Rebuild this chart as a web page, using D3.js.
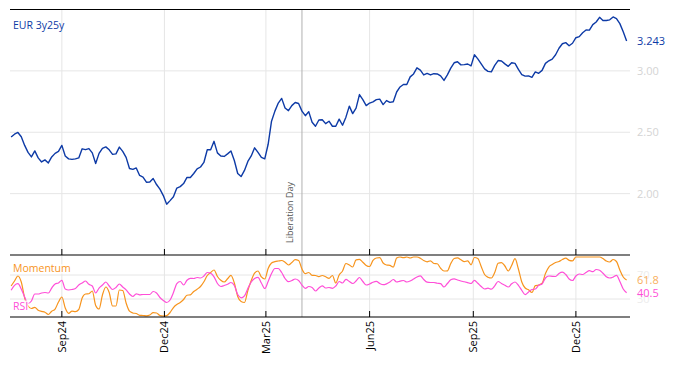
<!DOCTYPE html>
<html><head><meta charset="utf-8">
<script src="https://cdn.jsdelivr.net/npm/d3@7"></script>
<style>
body{margin:0;background:#fff;}
text{font-family:"Open Sans","Noto Sans",sans-serif;}
</style></head>
<body><svg id="c" width="674" height="366"></svg>
<script>
// ---------- DATA ----------
const seriesName = "EUR 3y25y";
const startDate = "2024-07-18";
const stepDays = 3;
const rates = [2.461,2.484,2.498,2.463,2.393,2.336,2.299,2.348,2.291,2.258,2.275,2.250,2.299,2.328,2.344,2.393,2.307,2.283,2.279,2.283,
2.291,2.365,2.358,2.367,2.332,2.246,2.328,2.369,2.381,2.357,2.320,2.324,2.379,2.344,2.295,2.205,2.198,2.209,2.148,2.135,
2.093,2.094,2.123,2.074,2.037,1.984,1.914,1.943,1.975,2.045,2.057,2.082,2.132,2.131,2.164,2.201,2.217,2.254,2.357,2.358,
2.426,2.332,2.307,2.303,2.324,2.347,2.270,2.164,2.139,2.189,2.262,2.307,2.373,2.336,2.295,2.283,2.402,2.590,2.672,2.738,
2.776,2.697,2.676,2.717,2.742,2.734,2.672,2.635,2.668,2.582,2.549,2.600,2.602,2.570,2.590,2.549,2.549,2.607,2.557,2.623,
2.713,2.652,2.697,2.807,2.766,2.717,2.738,2.748,2.766,2.770,2.725,2.758,2.743,2.748,2.828,2.869,2.889,2.889,2.951,2.975,
3.025,3.006,2.967,2.980,2.967,2.977,2.975,2.959,2.922,2.967,3.022,3.066,3.074,3.049,3.051,3.056,3.041,3.131,3.098,3.057,
3.016,2.996,2.992,3.045,3.084,3.080,3.057,3.037,3.066,3.061,3.012,2.970,2.957,2.959,2.947,2.992,2.980,3.004,3.061,3.082,
3.096,3.131,3.184,3.221,3.230,3.205,3.225,3.270,3.279,3.311,3.333,3.332,3.377,3.398,3.436,3.410,3.410,3.416,3.439,3.426,
3.385,3.318,3.243];
const rsi = [44.5,52.8,55.5,46.7,33.3,22.5,26.7,38.3,38.3,40,40.8,40,48.3,55,56.7,61.2,46.7,45,45.8,47.5,
53.3,56.7,60,54.5,51.7,40,48.3,53.3,58.3,51.7,45.8,49.2,55,50,45.3,38.3,34.2,38.7,36.9,37.5,
37.5,37.5,42.5,40,32.5,27.5,24.2,28.3,40.8,55.8,59.2,53.3,61.2,64.5,64.2,65.8,65,68.3,74.2,72.8,
67,55.8,50.8,52.5,54.5,57.5,52.5,37.5,32,35.3,47.5,58.3,64.2,66.2,56.7,47.5,59.2,72.5,80.8,80.8,
74.2,64.2,58.8,60.8,63.3,60.8,53.3,47.8,50.8,49.2,43.3,48.3,52,48.3,49.2,47.8,51.7,59.2,56.7,62.8,
59.2,55.8,60,65.8,59.2,53.3,55,58,59.3,55.8,53.8,55.3,58.3,62.5,58.3,59.7,60.8,58.3,60,63.3,
66.7,68.7,62.5,58,57.5,57.5,56.2,55.5,50,55.8,62,63.7,61.7,60,58.7,57.3,55.8,61.2,56.2,50.8,
46.7,48,46.3,52,59.2,55.8,53,50,55.3,58.3,52.8,44.5,37.3,41.7,45.8,46.7,52.8,55,65,68.3,
67.8,67.5,72.5,74.7,70.8,63.3,60.8,68.3,71.7,70.8,74.2,77.2,75.5,79.2,78,73,67,65,66.5,69.3,
59.2,46.7,40.5];
const momentum = [51.7,60,68.3,58.3,31.7,18.3,14.2,16.2,11.2,9.3,8,4.2,9.7,13.3,25,33.3,15,6.2,9.7,9,
12.5,31.7,38.3,38.8,43.3,19.2,13.3,36.7,50,40.8,18.3,18.3,45,44.2,23.3,9.7,6.7,5.8,2.8,2.5,
2,3.3,7.2,6.7,2.5,1.7,2.3,7.5,15.8,20.8,24.2,29.2,36.3,37,42.5,46.3,50.8,58.7,69.2,74.2,
78.3,67.5,61.3,58.3,63.8,69.5,56.7,34.2,25.8,24.2,44.2,60.8,73.3,76.7,66.7,63.3,80.8,90,92.2,93.3,
94.2,91.3,86.7,90.8,95.5,94.2,80,72.2,74.2,69.5,69.2,67.2,69.2,67,64.5,69.2,56.7,70,76.7,89.2,
86.7,83.3,95.3,96,91.3,86,84.2,94.2,98.3,98.8,90,86.7,86,83.3,98.3,100,98.8,100,98.3,100,
100,98,94.2,92,93.7,89.2,88.7,81.2,76.7,77,89.2,97.5,98.7,95.3,92.2,93.7,87,99.2,97.5,84.2,
70.8,66.3,65,74.2,89.5,90.7,85,76.7,85.8,97.2,80,58.3,48.3,45.3,40.8,52.2,53.3,56.2,72.5,83.3,
87.5,90.8,92.5,95.8,98,94.5,93.7,100,100,100,100,100,100,100,100,97.5,93.3,91.7,95.8,92.5,
78.3,66.7,61.8];
const rateTicks = [2.0, 2.5, 3.0];
const oscTicks = [30, 70];
const monthTicks = ["2024-09-01","2024-12-01","2025-03-01","2025-06-01","2025-09-01","2025-12-01"];
const monthLabels = ["Sep24","Dec24","Mar25","Jun25","Sep25","Dec25"];
const eventDate = "2025-04-02";
const eventLabel = "Liberation Day";

// ---------- CHART ----------
const svg = d3.select("#c");
const parse = d3.timeParse("%Y-%m-%d");
const t0 = parse(startDate);
const dates = rates.map((_, i) => d3.timeDay.offset(t0, i * stepDays));

const L = 10, R = 630;
const mainTop = 9.5, mainBot = 255, lowTop = 255, lowBot = 317;
const x = d3.scaleTime().domain([parse("2024-07-17"), parse("2026-01-18")]).range([L, R]);
const y = d3.scaleLinear().domain([1.5, 3.5]).range([mainBot, mainTop]);
const y2 = d3.scaleLinear().domain([0, 100]).range([lowBot, 257]);

const blue = "#0d3aa6", orange = "#f7941d", pink = "#ff4fd8", grid = "#e6e6e6";

// gridlines
const g = svg.append("g");
g.selectAll(".hg").data(rateTicks).join("line")
  .attr("x1", L).attr("x2", R).attr("y1", d => y(d)).attr("y2", d => y(d))
  .attr("stroke", grid).attr("stroke-width", 1);
g.selectAll(".hg2").data(oscTicks).join("line")
  .attr("x1", L).attr("x2", R).attr("y1", d => y2(d)).attr("y2", d => y2(d))
  .attr("stroke", grid).attr("stroke-width", 1);
g.selectAll(".vg").data(monthTicks.map(parse)).join("line")
  .attr("x1", d => x(d)).attr("x2", d => x(d)).attr("y1", mainTop).attr("y2", lowBot)
  .attr("stroke", grid).attr("stroke-width", 1);

// event line
const ex = x(parse(eventDate));
svg.append("line").attr("x1", ex).attr("x2", ex).attr("y1", mainTop).attr("y2", lowBot)
  .attr("stroke", "#b0b0b0").attr("stroke-width", 1);
svg.append("text").attr("transform", `translate(${ex - 9},243) rotate(-90)`)
  .attr("font-size", 9).attr("fill", "#555").text(eventLabel);

// lines
const line = d3.line().x((d, i) => x(dates[i])).y(d => y(d));
svg.append("path").datum(rates).attr("d", line).attr("fill", "none")
  .attr("stroke", blue).attr("stroke-width", 1.4).attr("stroke-linejoin", "round");
const line2 = d3.line().x((d, i) => x(dates[i])).y(d => y2(d)).curve(d3.curveMonotoneX);
svg.append("path").datum(momentum).attr("d", line2).attr("fill", "none")
  .attr("stroke", orange).attr("stroke-width", 1.2);
svg.append("path").datum(rsi).attr("d", line2).attr("fill", "none")
  .attr("stroke", pink).attr("stroke-width", 1.2);

// frame lines
[mainTop, mainBot, lowBot].forEach(v => {
  svg.append("line").attr("x1", L).attr("x2", R).attr("y1", v).attr("y2", v)
    .attr("stroke", "#000").attr("stroke-width", 1.2);
});
// ticks
const tickG = svg.append("g");
monthTicks.map(parse).forEach(d => {
  tickG.append("line").attr("x1", x(d)).attr("x2", x(d)).attr("y1", mainBot - 6).attr("y2", mainBot).attr("stroke", "#000");
  tickG.append("line").attr("x1", x(d)).attr("x2", x(d)).attr("y1", lowBot - 6).attr("y2", lowBot).attr("stroke", "#000");
});
svg.selectAll(".xl").data(monthTicks).join("text")
  .attr("transform", d => `translate(${x(parse(d)) + 4},321) rotate(-90)`)
  .attr("text-anchor", "end").attr("font-size", 11).attr("fill", "#000")
  .text((d, i) => monthLabels[i]);

// right axis labels
svg.selectAll(".yl").data(rateTicks).join("text")
  .attr("x", 637).attr("y", d => y(d) + 4).attr("font-size", 11).attr("fill", "#d4d4d4")
  .text(d => d.toFixed(2));
svg.selectAll(".yl2").data(oscTicks).join("text")
  .attr("x", 637).attr("y", d => y2(d) + 4).attr("font-size", 11).attr("fill", "#ececec")
  .text(d => d);

// value labels
svg.append("text").attr("x", 637).attr("y", y(rates[rates.length - 1]) + 4)
  .attr("font-size", 11).attr("fill", blue).text(rates[rates.length - 1].toFixed(3));
svg.append("text").attr("x", 637).attr("y", y2(momentum[momentum.length - 1]) + 4)
  .attr("font-size", 11).attr("fill", orange).attr("opacity", 0.75).text(momentum[momentum.length - 1].toFixed(1));
svg.append("text").attr("x", 637).attr("y", y2(rsi[rsi.length - 1]) + 4)
  .attr("font-size", 11).attr("fill", pink).text(rsi[rsi.length - 1].toFixed(1));

// series labels
svg.append("text").attr("x", 13).attr("y", 29).attr("font-size", 10.5).attr("fill", blue).text(seriesName);
svg.append("text").attr("x", 13).attr("y", 272).attr("font-size", 10.5).attr("fill", orange)
  .attr("stroke", "#fff").attr("stroke-opacity", 0.8).attr("stroke-width", 3).attr("paint-order", "stroke").text("Momentum");
svg.append("text").attr("x", 13).attr("y", 310).attr("font-size", 10.5).attr("fill", pink)
  .attr("stroke", "#fff").attr("stroke-opacity", 0.8).attr("stroke-width", 3).attr("paint-order", "stroke").text("RSI");
</script></body></html>
